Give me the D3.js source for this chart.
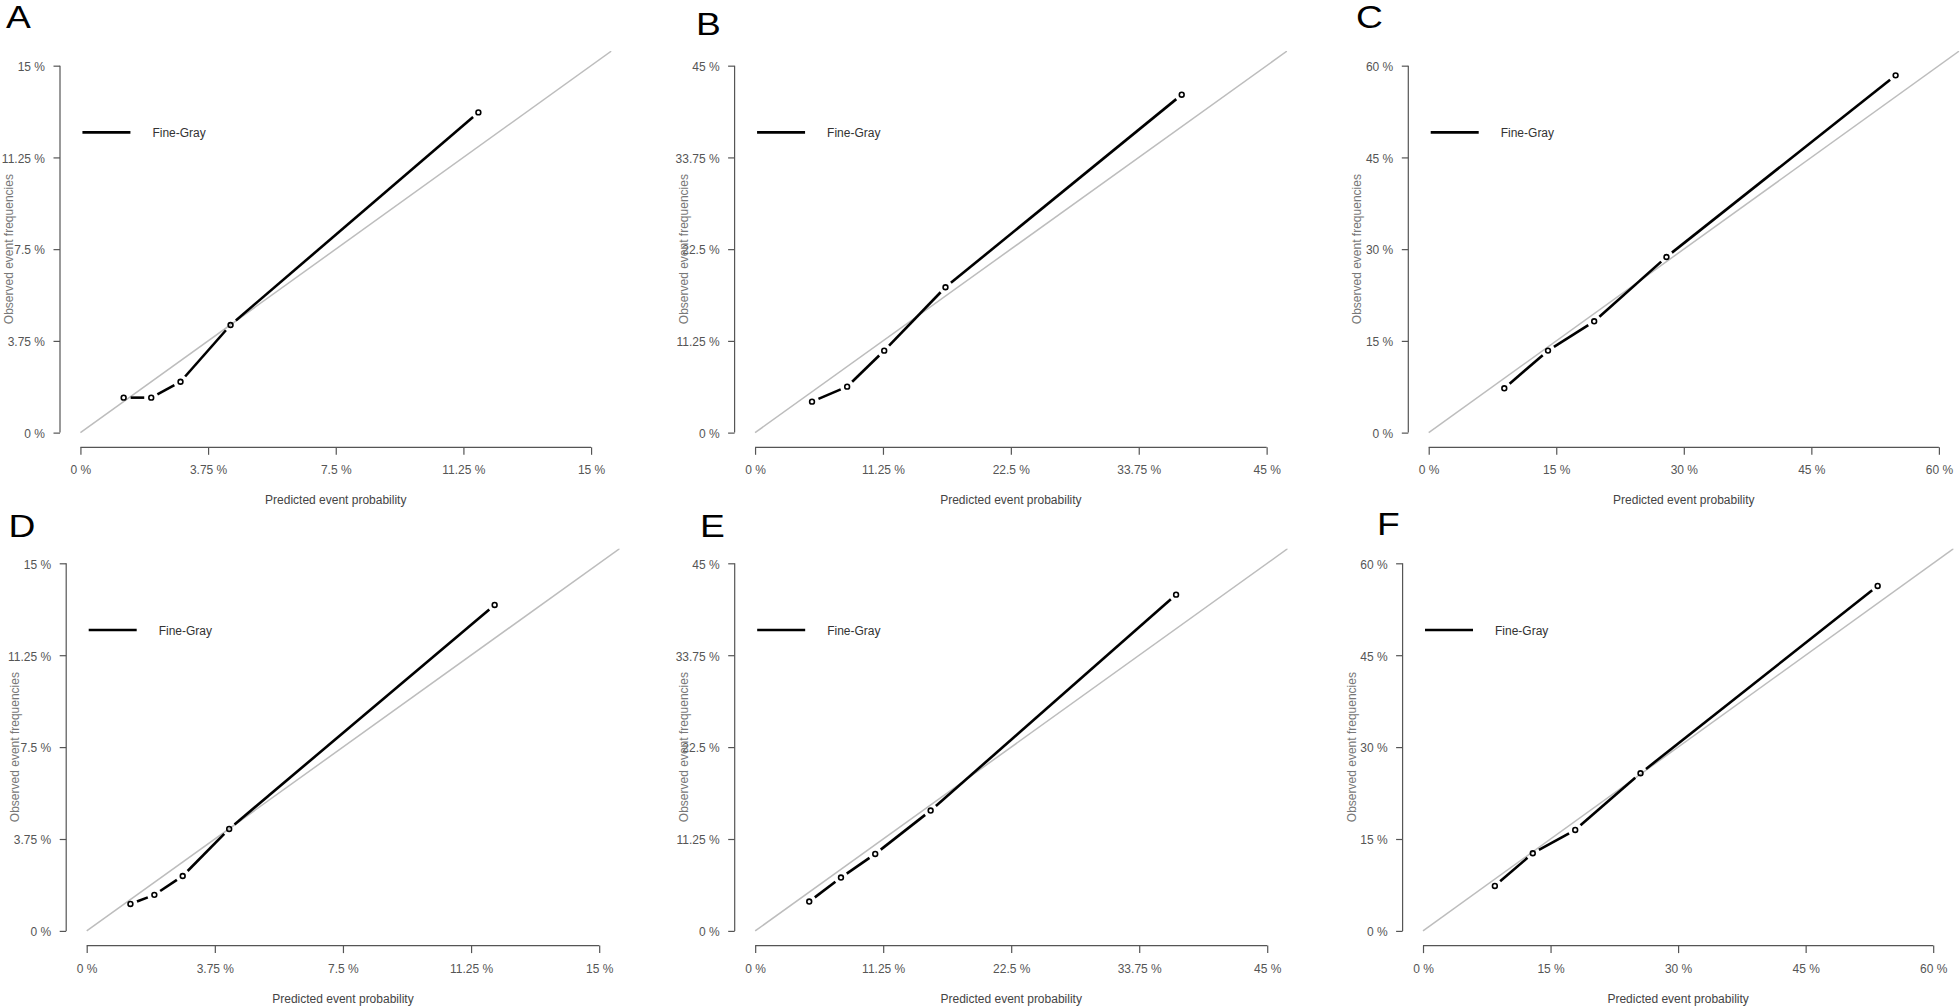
<!DOCTYPE html>
<html>
<head>
<meta charset="utf-8">
<script src="https://cdn.jsdelivr.net/npm/d3@7"></script>
<style>
  html, body { margin: 0; padding: 0; background: #fff; }
  svg { display: block; }
  text { font-family: "Liberation Sans", Arial, "DejaVu Sans", sans-serif; }
</style>
</head>
<body>
<svg id="chart" width="1960" height="1006"></svg>
<script>
// ---------------- DATA ----------------
const panelLetters = ["A", "B", "C", "D", "E", "F"];
const axisMax = [15, 45, 60, 15, 45, 60];

const ticks15 = [0, 3.75, 7.5, 11.25, 15];
const tickLabels15 = ["0 %", "3.75 %", "7.5 %", "11.25 %", "15 %"];
const ticks45 = [0, 11.25, 22.5, 33.75, 45];
const tickLabels45 = ["0 %", "11.25 %", "22.5 %", "33.75 %", "45 %"];
const ticks60 = [0, 15, 30, 45, 60];
const tickLabels60 = ["0 %", "15 %", "30 %", "45 %", "60 %"];

const predA = [1.27, 2.08, 2.94, 4.41, 11.69];
const obsA  = [1.43, 1.43, 2.08, 4.40, 13.09];
const predB = [5.01, 8.10, 11.36, 16.75, 37.53];
const obsB  = [3.80, 5.64, 10.05, 17.83, 41.44];
const predC = [8.89, 14.03, 19.46, 27.96, 54.91];
const obsC  = [7.25, 13.41, 18.20, 28.72, 58.42];
const predD = [1.28, 1.98, 2.81, 4.17, 11.94];
const obsD  = [1.10, 1.47, 2.24, 4.16, 13.30];
const predE = [4.75, 7.54, 10.55, 15.42, 36.99];
const obsE  = [3.59, 6.53, 9.42, 14.73, 41.16];
const predF = [8.45, 12.91, 17.90, 25.58, 53.47];
const obsF  = [7.34, 12.67, 16.48, 25.73, 56.30];

const legendLabel = "Fine-Gray";
const xTitle = "Predicted event probability";
const yTitle = "Observed event frequencies";

// ---------------- LAYOUT ----------------
const panelData = [
  { pred: predA, obs: obsA, ticks: ticks15, labels: tickLabels15 },
  { pred: predB, obs: obsB, ticks: ticks45, labels: tickLabels45 },
  { pred: predC, obs: obsC, ticks: ticks60, labels: tickLabels60 },
  { pred: predD, obs: obsD, ticks: ticks15, labels: tickLabels15 },
  { pred: predE, obs: obsE, ticks: ticks45, labels: tickLabels45 },
  { pred: predF, obs: obsF, ticks: ticks60, labels: tickLabels60 }
];
// plot regions (left, top, width, height)
const layout = [
  { l: 60,     t: 51,    w: 551.5, h: 396.3, lx: 6,    ly: 28.3 },
  { l: 734.6,  t: 51,    w: 552.5, h: 396.3, lx: 696,  ly: 35 },
  { l: 1408.3, t: 51,    w: 551,   h: 396.3, lx: 1356, ly: 28 },
  { l: 66.2,   t: 548.6, w: 553.5, h: 397,   lx: 8.5,  ly: 536.7 },
  { l: 734.7,  t: 548.6, w: 553,   h: 397,   lx: 700,  ly: 536.7 },
  { l: 1402.6, t: 548.6, w: 551,   h: 397,   lx: 1377, ly: 535 }
];

const svg = d3.select("#chart");
const axisColor = "#555";

panelData.forEach((pd, i) => {
  const L = layout[i];
  const max = axisMax[i];
  const ext = 0.04 * max;
  const x = d3.scaleLinear().domain([-ext, max + ext]).range([L.l, L.l + L.w]);
  const y = d3.scaleLinear().domain([-ext, max + ext]).range([L.t + L.h, L.t]);
  const g = svg.append("g");

  // clip
  const clipId = "clip" + i;
  svg.append("clipPath").attr("id", clipId).append("rect")
    .attr("x", L.l).attr("y", L.t).attr("width", L.w).attr("height", L.h);

  // diagonal reference line
  g.append("line")
    .attr("clip-path", `url(#${clipId})`)
    .attr("x1", x(0)).attr("y1", y(0))
    .attr("x2", x(max + ext)).attr("y2", y(max + ext))
    .attr("stroke", "#bdbdbd").attr("stroke-width", 1.5);

  // y axis
  const yAxis = d3.axisLeft(y).tickValues(pd.ticks)
    .tickFormat((d, k) => pd.labels[k]).tickSize(6.5).tickPadding(8.5);
  const ya = g.append("g").attr("transform", `translate(${L.l},0)`).call(yAxis);
  ya.select(".domain").remove();
  ya.append("line").attr("x1", 0).attr("x2", 0)
    .attr("y1", y(0)).attr("y2", y(max)).attr("stroke", axisColor).attr("stroke-width", 1.2);
  ya.selectAll(".tick line").attr("stroke", axisColor).attr("stroke-width", 1.2);
  ya.selectAll(".tick text").attr("fill", "#555").attr("font-size", "12px")
    .attr("dy", "0.4em")
    .style("font-family", '"Liberation Sans", Arial, sans-serif');

  // x axis
  const xAxis = d3.axisBottom(x).tickValues(pd.ticks)
    .tickFormat((d, k) => pd.labels[k]).tickSize(7.5).tickPadding(11);
  const xa = g.append("g").attr("transform", `translate(0,${L.t + L.h})`).call(xAxis);
  xa.select(".domain").remove();
  xa.append("line").attr("y1", 0).attr("y2", 0)
    .attr("x1", x(0)).attr("x2", x(max)).attr("stroke", axisColor).attr("stroke-width", 1.2);
  xa.selectAll(".tick line").attr("stroke", axisColor).attr("stroke-width", 1.2);
  xa.selectAll(".tick text").attr("fill", "#555").attr("font-size", "12px")
    .style("font-family", '"Liberation Sans", Arial, sans-serif');

  // axis titles
  g.append("text")
    .attr("x", (x(0) + x(max)) / 2).attr("y", L.t + L.h + 57)
    .attr("text-anchor", "middle").attr("font-size", "12px").attr("fill", "#444")
    .text(xTitle);
  g.append("text")
    .attr("transform", `translate(${L.l - 47},${(y(0) + y(max)) / 2}) rotate(-90)`)
    .attr("text-anchor", "middle").attr("font-size", "12px").attr("fill", "#777")
    .text(yTitle);

  // calibration line: segments with gaps (type = "b")
  const pts = pd.pred.map((p, k) => [x(p), y(pd.obs[k])]);
  const gap = 7;
  for (let k = 0; k < pts.length - 1; k++) {
    const [x1, y1] = pts[k], [x2, y2] = pts[k + 1];
    const dx = x2 - x1, dy = y2 - y1, len = Math.hypot(dx, dy);
    if (len <= 2 * gap) continue;
    const ux = dx / len, uy = dy / len;
    g.append("line")
      .attr("x1", x1 + ux * gap).attr("y1", y1 + uy * gap)
      .attr("x2", x2 - ux * gap).attr("y2", y2 - uy * gap)
      .attr("stroke", "#000").attr("stroke-width", 2.6);
  }
  g.selectAll("circle.pt").data(pts).enter().append("circle")
    .attr("class", "pt")
    .attr("cx", d => d[0]).attr("cy", d => d[1]).attr("r", 2.4)
    .attr("fill", "none").attr("stroke", "#000").attr("stroke-width", 1.6);

  // legend
  const legY = y(max) + 66.7;
  g.append("line")
    .attr("x1", x(0) + 2).attr("x2", x(0) + 50)
    .attr("y1", legY).attr("y2", legY)
    .attr("stroke", "#000").attr("stroke-width", 2.6);
  g.append("text")
    .attr("x", x(0) + 72).attr("y", legY + 4.5)
    .attr("font-size", "12px").attr("fill", "#333")
    .text(legendLabel);

  // panel letter
  g.append("text")
    .attr("transform", `translate(${L.lx},${L.ly}) scale(1.2,1)`)
    .attr("font-size", "31px").attr("fill", "#000")
    .text(panelLetters[i]);
});
</script>
</body>
</html>
